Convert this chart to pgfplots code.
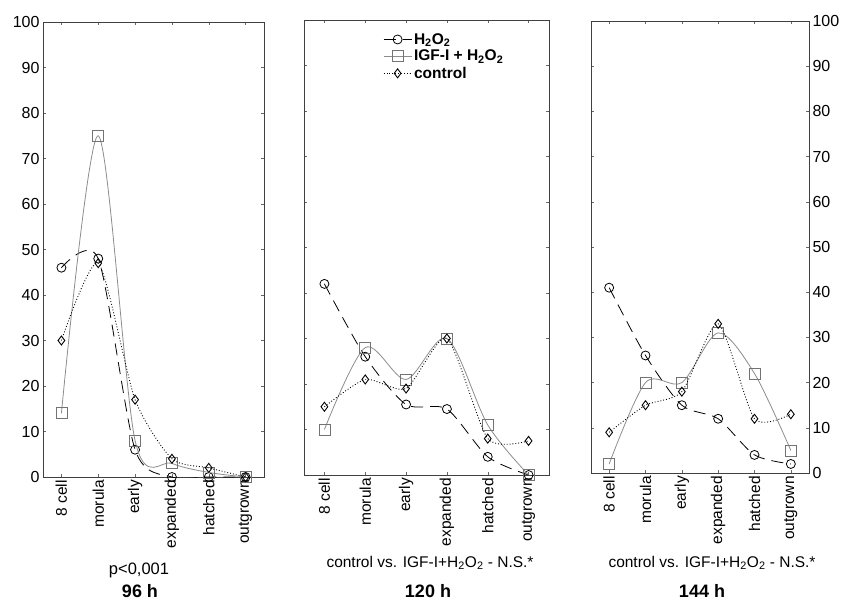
\documentclass[border=0pt]{standalone}
\usepackage{fontspec}
\setmainfont{Liberation Sans}
\usepackage{pgfplots}
\pgfplotsset{compat=1.18}

\newcommand{\vlab}[1]{\rotatebox{90}{#1}}

\pgfplotsset{
  embryo/.style={
    scale only axis,
    anchor=south west,
    xmin=-0.5, xmax=5.5, ymin=0, ymax=100,
    xtick={0,...,5},
    xticklabels={\vlab{8 cell},\vlab{morula},\vlab{early},\vlab{expanded},\vlab{hatched},\vlab{outgrown}},
    xticklabel style={anchor=north, inner sep=1pt, yshift=-2pt, font=\fontsize{15.5}{16}\selectfont},
    ytick={0,10,...,100},
    y tick label style={font=\fontsize{16}{16}\selectfont},
    /pgf/number format/assume math mode=true,
    tick align=inside,
    major tick length=3pt,
    tick style={black!60, line width=0.5pt},
    axis line style={black!75, line width=0.7pt},
    clip mode=individual,
  },
  h2o2/.style={black, line width=0.8pt, dash pattern=on 12pt off 7pt, smooth, tension=0.45,
    mark=o, mark size=4.5pt, mark options={solid, fill=white}},
  igf/.style={black!45, line width=0.8pt, smooth,
    mark=square, mark size=5.5pt, mark options={solid, fill=white, draw=black!55}},
  ctrl/.style={black, line width=0.9pt, dotted, smooth, tension=0.4,
    mark=diamond, mark size=4.5pt, mark options={solid, fill=white}},
}

\begin{document}
\begin{tikzpicture}
\path[use as bounding box] (0pt,0pt) rectangle (846pt,603pt);

% 96 h
\begin{axis}[embryo, at={(43pt,126pt)}, width=221pt, height=455pt,
    yticklabel pos=left]
\addplot[h2o2] coordinates {(0,46) (1,48) (2,6) (3,0) (4,0) (5,0)};
\addplot[igf] coordinates {(0,14) (1,75) (2,8) (3,3) (4,1) (5,0)};
\addplot[ctrl] coordinates {(0,30) (1,47) (2,17) (3,4) (4,2) (5,0)};
\end{axis}

% 120 h
\begin{axis}[embryo, at={(304pt,128pt)}, width=245pt, height=455pt,
    yticklabels={},
    legend style={at={(rel axis cs:0.31,0.98)}, anchor=north west, draw=none, fill=none,
      font=\bfseries\fontsize{15.5}{15.5}\selectfont, row sep=0.5pt, cells={anchor=west}},
    legend image code/.code={\draw[mark repeat=2, mark phase=2, #1]
      plot coordinates {(0pt,0pt) (14pt,0pt) (28pt,0pt)};}]
\addplot[h2o2] coordinates {(0,42) (1,26) (2,15.5) (3,14.5) (4,4) (5,0)};
\addplot[igf] coordinates {(0,10) (1,28) (2,21) (3,30) (4,11) (5,0)};
\addplot[ctrl] coordinates {(0,15) (1,21) (2,19) (3,30) (4,8) (5,7.5)};
\legend{H\textsubscript{2}O\textsubscript{2}, IGF-I + H\textsubscript{2}O\textsubscript{2}, control}
\end{axis}

% 144 h
\begin{axis}[embryo, at={(591pt,130pt)}, width=218pt, height=452pt,
    yticklabel pos=right]
\addplot[h2o2] coordinates {(0,41) (1,26) (2,15) (3,12) (4,4) (5,2)};
\addplot[igf] coordinates {(0,2) (1,20) (2,20) (3,31) (4,22) (5,5)};
\addplot[ctrl] coordinates {(0,9) (1,15) (2,18) (3,33) (4,12) (5,13)};
\end{axis}

\node[font=\fontsize{16.5}{16.5}\selectfont] at (139pt,33pt) {p<0,001};
\node[font=\bfseries\fontsize{18}{18}\selectfont] at (140pt,12pt) {96 h};
\node[font=\fontsize{15.5}{15.5}\selectfont] at (430pt,40pt) {control vs. IGF-I+H\textsubscript{2}O\textsubscript{2} - N.S.*};
\node[font=\bfseries\fontsize{18}{18}\selectfont] at (428pt,12pt) {120 h};
\node[font=\fontsize{15.5}{15.5}\selectfont] at (712pt,40pt) {control vs. IGF-I+H\textsubscript{2}O\textsubscript{2} - N.S.*};
\node[font=\bfseries\fontsize{18}{18}\selectfont] at (702pt,12pt) {144 h};
\end{tikzpicture}
\end{document}
